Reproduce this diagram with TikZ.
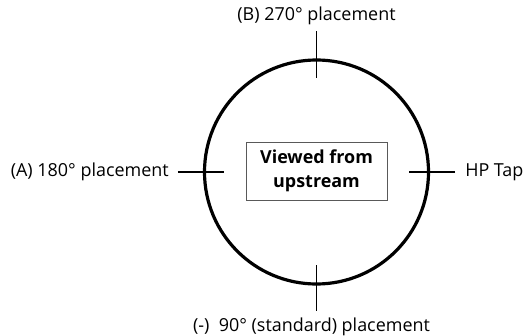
\documentclass[tikz,border=0pt]{standalone}
\usepackage{fontspec}
\setmainfont{Open Sans}
\usetikzlibrary{positioning}
\begin{document}
\begin{tikzpicture}[x=1bp,y=1bp,
  tickline/.style={line width=1.7bp},
  lbl/.style={font=\fontsize{18}{21}\selectfont, inner sep=0pt}]
\useasboundingbox (0,0) rectangle (528,335);
% pipe cross-section
\node[circle,draw,line width=3.2bp,minimum size=224bp,inner sep=0pt] (pipe) at (316.5,163) {};
\node[draw=black!65,line width=0.8bp,minimum width=141bp,minimum height=58bp,inner sep=0pt,
  align=center,font=\bfseries\fontsize{18}{24}\selectfont] (view) at (316.5,164) {Viewed from\\upstream};
% tick marks
\coordinate (topout) at ([yshift=27bp]pipe.north);
\coordinate (topin) at ([yshift=-20bp]pipe.north);
\coordinate (botout) at ([yshift=-25bp]pipe.south);
\coordinate (botin) at ([yshift=21bp]pipe.south);
\coordinate (leftout) at ([xshift=-25bp]pipe.west);
\coordinate (leftin) at ([xshift=21bp]pipe.west);
\coordinate (rightout) at ([xshift=25bp]pipe.east);
\coordinate (rightin) at ([xshift=-21bp]pipe.east);
\draw[tickline] (topout) -- (topin);
\draw[tickline] (botout) -- (botin);
\draw[tickline] (leftout) -- (leftin);
\draw[tickline] (rightout) -- (rightin);
% labels
\node[lbl,above=6bp of topout] (labB) {(B) 270° placement};
\node[lbl,below=7bp of botout,xshift=-5bp] (lab90) {(-)\ \ 90° (standard) placement};
\node[lbl,left=9bp of leftout] (labA) {(A) 180° placement};
\node[lbl,right=10bp of rightout] (labHP) {HP Tap};
\end{tikzpicture}
\end{document}
